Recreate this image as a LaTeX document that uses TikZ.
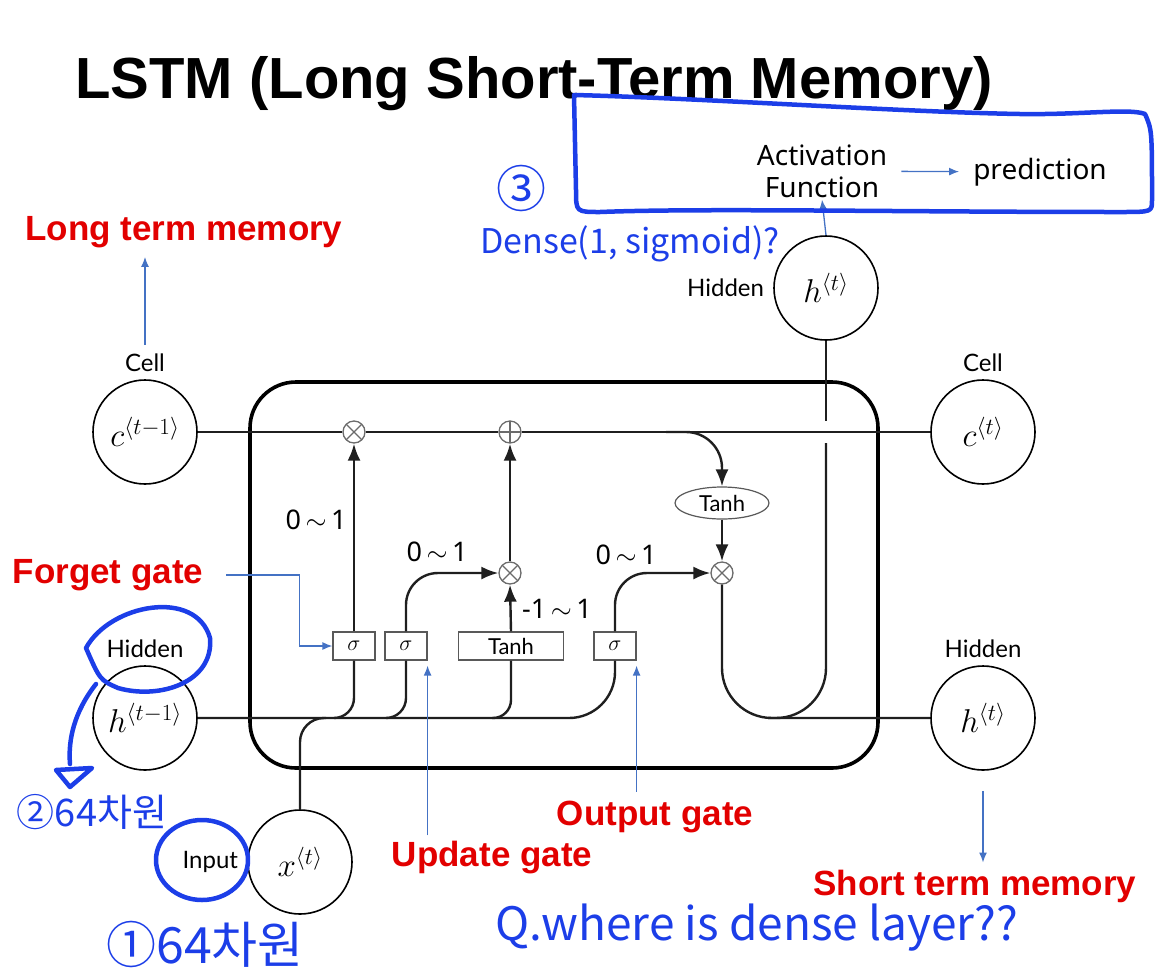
\documentclass[tikz,border=0pt]{standalone}
\usepackage{fix-cm}
\usepackage{fontspec}
\newfontfamily\notosans{Noto Sans}
\newfontfamily\boldsans{Liberation Sans}
\newfontfamily\latofont{Lato}
\newfontfamily\krfont{Noto Sans CJK KR}
\usepackage{xcolor}
\usepackage{tikz}
\usetikzlibrary{shapes, arrows, arrows.meta, positioning}

\definecolor{memred}{RGB}{226,0,0}
\definecolor{penblue}{RGB}{28,62,232}
\definecolor{noteblue}{RGB}{68,114,196}
\definecolor{opgray}{gray}{0.42}

\begin{document}
\begin{tikzpicture}[
        x=1pt, y=-1pt,
        state/.style={circle, draw, line width=1.6pt, minimum size=104pt, inner sep=0pt, font=\fontsize{33}{36}\selectfont},
        lbl/.style={font=\latofont\fontsize{24}{26}\selectfont, inner sep=1pt},
        gate/.style={rectangle, draw=black!65, line width=1.2pt, fill=white, minimum height=28pt, minimum width=42pt, inner sep=2pt, font=\latofont\fontsize{22}{24}\selectfont},
        opx/.style={circle, draw=opgray, line width=1.3pt, fill=white, minimum size=22pt, inner sep=0pt,
            path picture={\draw[opgray, line width=1.3pt] (path picture bounding box.south west) -- (path picture bounding box.north east)
                (path picture bounding box.north west) -- (path picture bounding box.south east);}},
        opplus/.style={opx, path picture={\draw[opgray, line width=1.3pt] (path picture bounding box.north) -- (path picture bounding box.south)
                (path picture bounding box.west) -- (path picture bounding box.east);}},
        spanlbl/.style={font=\notosans\fontsize{27}{30}\selectfont, inner sep=1pt},
        memlabel/.style={font=\boldsans\bfseries\fontsize{35}{38}\selectfont, text=memred, inner sep=1pt},
        plain/.style={font=\notosans\fontsize{28}{34}\selectfont, align=center, inner sep=2pt},
        hand/.style={font=\krfont, text=penblue, inner sep=0pt},
        line/.style={draw, line width=2.4pt, black!88},
        flow/.style={line, -{Latex[length=17pt, width=13pt]}},
        note/.style={draw=noteblue, line width=1.3pt, -{Latex[length=10pt, width=8pt]}},
        pen/.style={draw=penblue, line width=4.5pt, line cap=round, line join=round}
    ]
    \useasboundingbox (0,0) rectangle (1175,978);

    % Title
    \node [font=\boldsans\bfseries\fontsize{58}{64}\selectfont] (title) at (534,84) {LSTM (Long Short-Term Memory)};

    % Cell box
    \node [draw, line width=3.6pt, rounded corners=46pt, minimum width=628pt, minimum height=386pt] (cell) at (564,575) {};

    % States
    \node [state] (cprev) at (145,432) {$c^{\langle t-1\rangle}$};
    \node [state] (hprev) at (145,718) {$h^{\langle t-1\rangle}$};
    \node [state] (xin) at (300,862) {$x^{\langle t\rangle}$};
    \node [state] (ccur) at (983,432) {$c^{\langle t\rangle}$};
    \node [state] (hcur) at (983,718) {$h^{\langle t\rangle}$};
    \node [state] (htop) at (826,288) {$h^{\langle t\rangle}$};

    \node [lbl, above=6pt of cprev] (cprevlbl) {Cell};
    \node [lbl, above=6pt of hprev] (hprevlbl) {Hidden};
    \node [lbl, left=8pt of xin] (xinlbl) {Input};
    \node [lbl, above=6pt of ccur] (ccurlbl) {Cell};
    \node [lbl, above=6pt of hcur] (hcurlbl) {Hidden};
    \node [lbl, left=8pt of htop] (htoplbl) {Hidden};

    % Operations
    \node [opx] (fx) at (354,432) {};
    \node [opplus] (pl) at (510,432) {};
    \node [opx] (ux) at (510,573) {};
    \node [opx] (ox) at (722,573) {};
    \node [ellipse, draw=black!65, line width=1.2pt, fill=white, minimum width=94pt, minimum height=32pt, inner sep=0pt, font=\latofont\fontsize{22}{24}\selectfont] (tanhc) at (722,503) {Tanh};

    % Gates
    \node [gate] (sf) at (354,646) {$\sigma$};
    \node [gate] (su) at (406,646) {$\sigma$};
    \node [gate, minimum width=105pt] (tg) at (511,646) {Tanh};
    \node [gate] (so) at (615,646) {$\sigma$};

    % Junctions
    \coordinate (jf) at (334,718);
    \coordinate (ju) at (386,718);
    \coordinate (jt) at (492,718);
    \coordinate (jx) at (326,718);
    \coordinate (jc) at (666,432);
    \coordinate (gapT) at (826,421);
    \coordinate (gapB) at (826,443);
    \coordinate (jh) at (768,718);

    % Cell state
    \draw [line] (cprev) -- (fx) -- (pl) -- (ccur);

    % Hidden and input
    \draw [line, rounded corners=46pt] (hprev.east) -| (so.south);
    \draw [line, rounded corners=20pt] (jf) -| (sf.south);
    \draw [line, rounded corners=20pt] (ju) -| (su.south);
    \draw [line, rounded corners=18pt] (jt) -| (tg.south);
    \draw [line, rounded corners=24pt] (xin.north) |- (jx);

    % Gate outputs
    \draw [flow] (sf.north) -- (fx.south);
    \draw [flow, rounded corners=32pt] (su.north) |- (ux.west);
    \draw [flow] (tg.north) -- (ux.south);
    \draw [flow] (ux.north) -- (pl.south);
    \draw [flow, rounded corners=32pt] (so.north) |- (ox.west);
    \draw [flow, rounded corners=36pt] (jc) -| (tanhc.north);
    \draw [flow] (tanhc.south) -- (ox.north);

    % Output
    \draw [line, rounded corners=50pt] (ox.south) |- (hcur.west);
    \draw [line] (htop.south) -- (gapT);
    \draw [line, rounded corners=50pt] (gapB) |- (jh);

    % Ranges
    \node [spanlbl] at (316,520) {0\,$\sim$\,1};
    \node [spanlbl] at (437,552) {0\,$\sim$\,1};
    \node [spanlbl] at (626,555) {0\,$\sim$\,1};
    \node [spanlbl] at (557,609) {-1\,$\sim$\,1};

    % Notes
    \node [memlabel] (ltm) at (184,232) {Long term memory};
    \node [memlabel] (forget) at (108,575) {Forget gate};
    \node [memlabel] (update) at (492,858) {Update gate};
    \node [memlabel] (output) at (655,817) {Output gate};
    \node [memlabel] (stm) at (975,886) {Short term memory};

    \draw [note, shorten <=8pt, shorten >=8pt] (cprevlbl.north) -- (ltm.south -| cprevlbl.north);
    \draw [note] ([xshift=22pt]forget.east) -| ([xshift=-33pt]sf.west) -- (sf.west);
    \draw [note] ([yshift=5pt]update.north -| su.south east) -- ([yshift=-5pt]su.south east);
    \draw [note] ([yshift=8pt]output.north -| so.south east) -- ([yshift=-5pt]so.south east);
    \draw [note, shorten <=20pt, shorten >=6pt] (hcur.south) -- (stm.north -| hcur.south);

    % Prediction
    \node [plain] (act) at (822,171) {Activation\\[-2pt]Function};
    \node [plain] (pred) at (1040,172) {prediction};
    \draw [note, shorten <=12pt, shorten >=12pt] (act) -- (pred);
    \draw [note] (htop.north) -- (act.south);

    % Handwriting
    \draw [pen] (574,95) .. controls (700,98) and (900,112) .. (1020,114)
        .. controls (1080,115) and (1130,108) .. (1145,114)
        .. controls (1152,130) .. (1152,200)
        .. controls (1152,212) .. (1120,212)
        .. controls (900,212) and (700,208) .. (600,212)
        .. controls (576,212) .. (576,190) -- cycle;
    \node [hand, font=\krfont\fontsize{50}{50}\selectfont] at (521,188) {③};
    \node [hand, font=\krfont\fontsize{34}{36}\selectfont] at (630,244) {Dense(1, sigmoid)?};

    \draw [pen] (86,648) .. controls (110,604) and (196,588) .. (210,638)
        .. controls (214,682) and (160,700) .. (118,688)
        .. controls (100,680) .. (86,648);
    \draw [pen] (96,684) .. controls (74,712) and (68,740) .. (70,764);
    \draw [pen] (56,770) -- (92,768) -- (70,787) -- cycle;
    \node [hand, font=\krfont\fontsize{38}{40}\selectfont] at (92,812) {②64차원};

    \draw [pen] (202,860) ellipse [x radius=46, y radius=40];
    \node [hand, font=\krfont\fontsize{50}{52}\selectfont] at (205,944) {①64차원};

    \node [hand, font=\krfont\fontsize{46}{48}\selectfont] at (757,928) {Q.where is dense layer??};
\end{tikzpicture}
\end{document}
